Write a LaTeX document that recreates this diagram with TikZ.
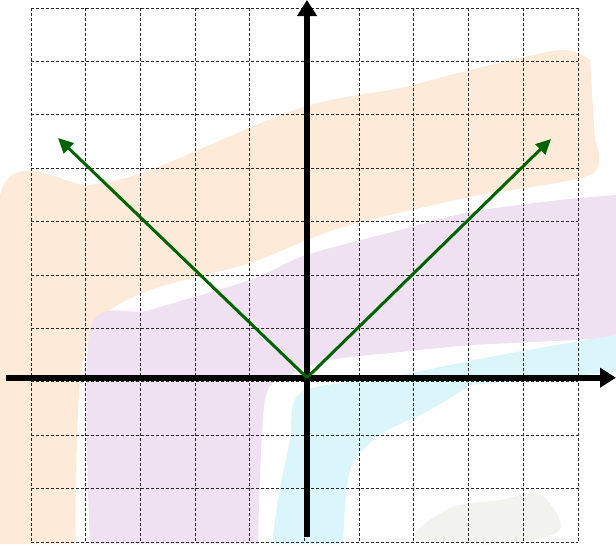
\documentclass[tikz,border=0pt]{standalone}
\usepackage{tikz}
\usetikzlibrary{arrows.meta}
\definecolor{wmorange}{HTML}{FDEAD8}
\definecolor{wmpurple}{HTML}{EFE1F1}
\definecolor{wmcyan}{HTML}{DAF6FA}
\definecolor{wmgrey}{HTML}{F2F2EF}
\definecolor{vgreen}{HTML}{006400}

\begin{document}
\begin{tikzpicture}[x=1pt, y=-1pt,
    gridline/.style={black!85, line width=0.9pt, dash pattern=on 3pt off 2pt},
    axis/.style={line width=6pt, -{Triangle[length=16pt, width=19pt]}},
    vline/.style={vgreen, line width=3pt, -{Triangle[length=15pt, width=14pt]}}
]
\useasboundingbox (0,0) rectangle (616,544);
% faded logo behind the grid
\fill[wmorange] plot[smooth] coordinates {(0,544) (0,195) (90,185) (150,170) (300,108) (400,88) (470,70) (560,50) (590,60)}
    -- plot[smooth] coordinates {(595,140) (590,175) (470,197) (340,228) (250,263) (150,290) (100,320) (80,380) (75,544)} -- cycle;
\fill[wmpurple] plot[smooth] coordinates {(90,544) (90,330) (150,310) (250,280) (306,255) (400,230) (470,212) (560,200) (616,195)}
    -- (616,338) -- plot[smooth] coordinates {(470,345) (400,352) (330,360) (290,375) (265,400) (258,544)} -- cycle;
\fill[wmcyan] plot[smooth] coordinates {(272,544) (278,500) (290,440) (302,392) (400,375) (500,355) (616,335)}
    -- (616,372) -- plot[smooth] coordinates {(470,385) (430,410) (380,435) (350,470) (343,544)} -- cycle;
\fill[wmgrey] plot[smooth cycle] coordinates {(415,538) (450,508) (500,500) (540,494) (560,530) (500,544)};
% grid
\foreach \i in {0,...,10} {
    \draw[gridline] ({31+54.7*\i},8) -- ({31+54.7*\i},542);
    \draw[gridline] (31,{8+53.4*\i}) -- (578,{8+53.4*\i});
}
% axes
\coordinate (O) at (307,377.7);
\coordinate (xmin) at (6,377.7);
\coordinate (xmax) at (616,377.7);
\coordinate (ymin) at (307,537);
\coordinate (ymax) at (307,0);
\draw[axis] (xmin) -- (xmax);
\draw[axis] (ymin) -- (ymax);
% the V
\coordinate (pl) at (58,138);
\coordinate (pr) at (551,139);
\draw[vline] (O) -- (pl);
\draw[vline] (O) -- (pr);
\end{tikzpicture}
\end{document}
